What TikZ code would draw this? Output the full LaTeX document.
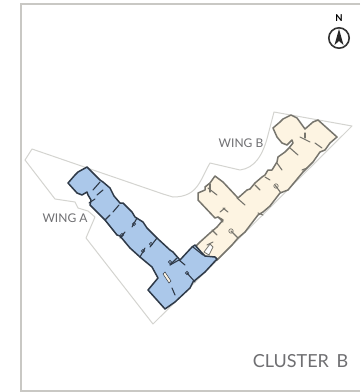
\documentclass[tikz,border=0pt]{standalone}
\usepackage{fontspec}
\setmainfont{Lato}
\usetikzlibrary{arrows.meta}

\definecolor{framegray}{HTML}{C9C8C4}
\definecolor{sitegray}{HTML}{D4D4D0}
\definecolor{wingblue}{HTML}{ABC8EA}
\definecolor{wingcream}{HTML}{FDF4E2}
\definecolor{labelgray}{HTML}{6F6F72}
\definecolor{walldark}{HTML}{2F3A48}
\definecolor{wallbrown}{HTML}{77756D}

\tikzset{
  sitelines/.style={draw=sitegray,line width=1pt,line join=round},
  wingwalls/.style={line width=1.5pt,line join=round},
  wingtext/.style={text=labelgray,font=\fontsize{12}{12}\selectfont,inner sep=0pt}
}

\begin{document}
\begin{tikzpicture}[x=1pt,y=-1pt]

    \useasboundingbox (0,0) rectangle (360,392);
    \fill[white] (0,0) rectangle (360,392);

    % frame
    \draw[framegray,line width=2pt] (360,3.5) -- (21,3.5) -- (21,390.5) -- (360,390.5);

    % site outline
    \draw[sitelines] (32,149) -- (25,160) -- (55,199) -- (75,202) -- (78,208) -- (88,211) -- (95,217)
      -- (86,238) -- (153,324) -- (352,126) -- (274,112) -- (268,135)
      .. controls (263,155) and (255,168) .. (240,170) -- (210,163)
      .. controls (200,180) and (198,197) .. (173,197) -- (163,194) -- cycle;

    % wing B
    \draw[wingwalls,draw=wallbrown,fill=wingcream] (195,247) -- (200,242) -- (210,233) -- (217,227)
      -- (223,220) -- (218,217) -- (215,218) -- (198,200) -- (198,193) -- (205,190) -- (205,187)
      -- (210,183) -- (215,176) -- (223,182) -- (238,198) -- (247,190) -- (250,189) -- (255,183)
      -- (262,177) -- (265,175) -- (268,170) -- (272,170) -- (277,162) -- (278,157) -- (285,152)
      -- (289,148) -- (293,143) -- (292,140) -- (287,145) -- (282,143) -- (277,137) -- (273,128)
      -- (280,122) -- (283,119) -- (291,115) -- (297,118) -- (305,129) -- (313,122) -- (318,120)
      -- (337,137) -- (330,143) -- (325,150) -- (320,152) -- (313,162) -- (303,172) -- (298,178)
      -- (288,190) -- (280,193) -- (270,206) -- (263,212) -- (258,215) -- (245,232) -- (238,238)
      -- (232,245) -- (217,260) -- (205,262) -- cycle;
    \draw[wallbrown,line width=0.8pt,fill=white] (204,252) -- (210,244) -- (213,247) -- (209,255) -- cycle;

    % wing A
    \draw[wingwalls,draw=walldark,fill=wingblue] (68,183) -- (75,175) -- (78,172) -- (87,167) -- (93,173)
      -- (100,180) -- (103,182) -- (110,188) -- (114,196) -- (120,203) -- (123,203) -- (132,212)
      -- (135,217) -- (143,222) -- (147,228) -- (157,238) -- (170,250) -- (173,252) -- (180,260)
      -- (192,247) -- (195,245) -- (202,253) -- (205,256) -- (215,257) -- (217,259) -- (205,272)
      -- (193,282) -- (190,288) -- (175,302) -- (165,309) -- (148,290) -- (158,278) -- (152,267)
      -- (140,257) -- (130,248) -- (120,236) -- (117,235) -- (105,220) -- (95,210) -- (90,205)
      -- (91,200) -- (88,195) -- (87,192) -- (82,195) -- (77,193) -- cycle;
    \draw[walldark,line width=0.5pt,fill=wingcream] (163,274) -- (165,272) -- (171,281) -- (169,283) -- cycle;

    % inner walls
    \foreach \xa/\ya/\xb/\yb in {100/182/93/190,103/190/97/195,95/199/89/203,119/205/113/212,110/215/105/220,
      137/218/132/227,125/232/120/238,157/238/150/247,145/248/140/257,177/258/170/265,179/260/170/265,
      179/260/185/265,172/288/175/295,187/273/195/282,193/247/203/255}
      \draw[walldark,line width=1.1pt,line cap=round] (\xa,\ya) -- (\xb,\yb);
    \foreach \xa/\ya/\xb/\yb in {208/188/217/195,210/184/210/192,300/137/310/142,305/133/305/138,315/143/322/148,
      290/148/298/155,277/163/282/170,265/177/270/180,302/170/307/168,255/185/260/190,237/198/245/205,
      220/212/225/208,223/208/228/212,218/217/223/222,258/213/263/215,212/230/217/235,231/231/238/238,
      207/245/213/242,275/185/281/193}
      \draw[wallbrown,line width=1.1pt,line cap=round] (\xa,\ya) -- (\xb,\yb);

    % small rooms
    \foreach \xa/\ya in {134/224,122/235,151/244,143/251,170/262,187/273}
      \draw[walldark,line width=0.7pt] (\xa,\ya) circle (1.6);
    \foreach \xa/\ya in {231/231,276/186}
      \draw[wallbrown,line width=0.7pt] (\xa,\ya) circle (2.2);

    % labels
    \node[wingtext] (wingA) at (65,218) {WING A};
    \node[wingtext] (wingB) at (241,143) {WING B};
    \node[wingtext,font=\fontsize{18}{18}\selectfont] (clusterB) at (300.5,361) {CLUSTER\, B};

    % north arrow
    \node[font=\bfseries\fontsize{9.5}{9.5}\selectfont,inner sep=0pt] (north) at (339,18) {N};
    \draw[black!80,line width=1.6pt] (339,38) circle (10.2);
    \fill[black!85] (339,29) -- (343.5,45) -- (339,41) -- (334.5,45) -- cycle;

\end{tikzpicture}
\end{document}
